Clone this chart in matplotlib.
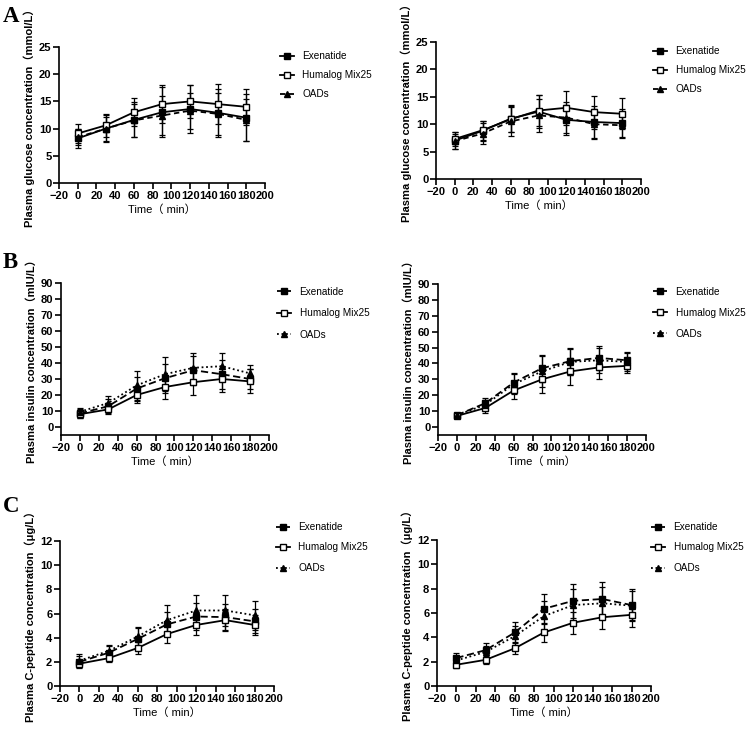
import matplotlib
matplotlib.use("Agg")
import matplotlib.pyplot as plt
from matplotlib.lines import Line2D

plt.rcParams['font.family'] = ['Liberation Sans', 'Noto Sans CJK SC', 'DejaVu Sans']

W, H = 755, 732

time_min = [0, 30, 60, 90, 120, 150, 180]
groups = ["Exenatide", "Humalog Mix25", "OADs"]

# A: plasma glucose (mmol/L)
glu_l_exe = [8.2, 10.0, 11.6, 13.0, 13.6, 12.9, 12.0]
glu_l_hum = [9.1, 10.6, 13.0, 14.5, 15.0, 14.5, 14.0]
glu_l_oad = [8.4, 10.0, 11.5, 12.4, 13.3, 12.7, 11.6]
glu_l_exe_sd = [1.8, 2.5, 3.2, 4.6, 4.5, 4.4, 4.3]
glu_l_hum_sd = [1.7, 2.1, 2.6, 3.5, 3.0, 3.7, 3.3]
glu_l_oad_sd = [1.5, 2.2, 3.0, 3.6, 3.3, 3.9, 3.9]

glu_r_exe = [7.0, 8.8, 11.0, 12.3, 10.8, 10.4, 10.2]
glu_r_hum = [7.3, 8.9, 10.9, 12.5, 13.0, 12.2, 11.9]
glu_r_oad = [6.9, 8.3, 10.5, 11.6, 11.2, 10.0, 9.8]
glu_r_exe_sd = [1.5, 1.8, 2.5, 3.0, 2.7, 3.0, 2.5]
glu_r_hum_sd = [1.3, 1.7, 2.4, 2.8, 3.1, 3.0, 2.8]
glu_r_oad_sd = [1.4, 1.9, 2.7, 3.0, 2.8, 2.7, 2.4]

# B: plasma insulin (mIU/L)
ins_l_exe = [8.5, 13.0, 24.0, 30.5, 35.5, 33.0, 30.0]
ins_l_hum = [8.0, 11.0, 20.0, 25.0, 28.0, 30.0, 28.5]
ins_l_oad = [9.5, 15.0, 26.0, 33.0, 37.0, 38.0, 33.5]
ins_l_exe_sd = [3.0, 4.5, 7.5, 9.0, 9.0, 9.0, 6.0]
ins_l_hum_sd = [2.5, 3.0, 5.0, 7.5, 8.0, 8.0, 7.5]
ins_l_oad_sd = [2.5, 4.5, 9.0, 10.5, 9.5, 8.5, 5.0]

ins_r_exe = [7.5, 15.0, 28.0, 37.0, 41.5, 43.5, 42.0]
ins_r_hum = [7.0, 12.0, 23.0, 30.0, 35.0, 37.5, 38.5]
ins_r_oad = [7.5, 14.0, 27.0, 35.0, 41.0, 42.0, 41.0]
ins_r_exe_sd = [1.5, 3.0, 6.0, 8.5, 8.5, 7.5, 5.5]
ins_r_hum_sd = [1.2, 3.0, 5.5, 8.5, 8.5, 7.5, 4.5]
ins_r_oad_sd = [1.3, 3.0, 6.5, 9.5, 8.0, 8.0, 5.5]

# C: plasma C-peptide (ug/L)
cp_l_exe = [2.0, 2.75, 3.9, 5.1, 5.75, 5.7, 5.35]
cp_l_hum = [1.85, 2.3, 3.15, 4.3, 5.05, 5.45, 5.05]
cp_l_oad = [2.1, 2.9, 4.1, 5.45, 6.25, 6.25, 5.85]
cp_l_exe_sd = [0.5, 0.6, 0.9, 1.0, 1.1, 1.1, 1.0]
cp_l_hum_sd = [0.3, 0.35, 0.5, 0.75, 0.85, 0.9, 0.8]
cp_l_oad_sd = [0.55, 0.5, 0.8, 1.25, 1.3, 1.3, 1.2]

cp_r_exe = [2.3, 2.95, 4.4, 6.35, 7.0, 7.15, 6.65]
cp_r_hum = [1.75, 2.15, 3.1, 4.4, 5.2, 5.65, 5.85]
cp_r_oad = [2.1, 2.8, 4.1, 5.75, 6.65, 6.8, 6.6]
cp_r_exe_sd = [0.45, 0.6, 0.9, 1.25, 1.4, 1.4, 1.3]
cp_r_hum_sd = [0.3, 0.35, 0.5, 0.75, 0.9, 1.0, 1.0]
cp_r_oad_sd = [0.4, 0.5, 0.8, 1.2, 1.3, 1.3, 1.2]

styles_a = [
    dict(ls='-', marker='s', mfc='black'),
    dict(ls='-', marker='s', mfc='white'),
    dict(ls=(0, (3, 2)), marker='^', mfc='black'),
]
styles_bc = [
    dict(ls=(0, (4, 2)), marker='s', mfc='black'),
    dict(ls='-', marker='s', mfc='white'),
    dict(ls=(0, (1, 1.5)), marker='^', mfc='black'),
]


def px_axes(fig, left, right, top, bottom):
    return fig.add_axes([left / W, 1 - bottom / H, (right - left) / W, (bottom - top) / H])


def draw_panel(fig, box, series, sds, styles, ylim, yticks, ylabel, leg_xy, leg_sp):
    ax = px_axes(fig, *box)
    handles = []
    for name, y, sd, st in zip(groups, series, sds, styles):
        ax.errorbar(time_min, y, yerr=sd, fmt='none', ecolor='black',
                    elinewidth=0.9, capsize=2.5, capthick=0.9, zorder=2)
        ax.plot(time_min, y, color='black', lw=1.3, ls=st['ls'],
                marker=st['marker'], ms=5, mfc=st['mfc'], mec='black',
                mew=1.0, zorder=3)
        handles.append(Line2D([], [], color='black', lw=1.3, ls=st['ls'],
                              marker=st['marker'], ms=5, mfc=st['mfc'],
                              mec='black', mew=1.0, label=name))
    ax.set_xlim(-20, 200)
    ax.set_xticks(range(-20, 201, 20))
    ax.set_ylim(*ylim)
    ax.set_yticks(yticks)
    for s in ('top', 'right'):
        ax.spines[s].set_visible(False)
    for s in ('left', 'bottom'):
        ax.spines[s].set_linewidth(1.2)
    ax.tick_params(direction='out', length=4, width=1.2, labelsize=8, pad=1.5)
    for lab in ax.get_xticklabels() + ax.get_yticklabels():
        lab.set_fontweight('bold')
    ax.set_xlabel('Time（ min）', fontsize=8, labelpad=3)
    ax.set_ylabel(ylabel, fontsize=8, fontweight='bold', labelpad=3)
    fig.legend(handles=handles, loc='upper left',
               bbox_to_anchor=(leg_xy[0] / W, 1 - leg_xy[1] / H),
               frameon=False, fontsize=7.2, handlelength=1.4,
               handletextpad=0.85, labelspacing=leg_sp, borderaxespad=0,
               borderpad=0)
    return ax


fig = plt.figure(figsize=(W / 100, H / 100), dpi=100)

glu_lab = 'Plasma glucose concentration（mmol/L）'
ins_lab = 'Plasma insulin concentration（mIU/L）'
cp_lab = 'Plasma C-peptide concentration（μg/L）'

draw_panel(fig, (59, 265, 47, 183), [glu_l_exe, glu_l_hum, glu_l_oad],
           [glu_l_exe_sd, glu_l_hum_sd, glu_l_oad_sd], styles_a,
           (0, 25), range(0, 26, 5), glu_lab, (280, 51), 0.9)
draw_panel(fig, (436, 641, 42, 179), [glu_r_exe, glu_r_hum, glu_r_oad],
           [glu_r_exe_sd, glu_r_hum_sd, glu_r_oad_sd], styles_a,
           (0, 25), range(0, 26, 5), glu_lab, (653, 46), 0.9)

draw_panel(fig, (61, 269, 283, 435), [ins_l_exe, ins_l_hum, ins_l_oad],
           [ins_l_exe_sd, ins_l_hum_sd, ins_l_oad_sd], styles_bc,
           (-5, 90), range(0, 91, 10), ins_lab, (277, 287), 1.15)
draw_panel(fig, (438, 646, 284, 435), [ins_r_exe, ins_r_hum, ins_r_oad],
           [ins_r_exe_sd, ins_r_hum_sd, ins_r_oad_sd], styles_bc,
           (-5, 90), range(0, 91, 10), ins_lab, (653, 287), 1.1)

draw_panel(fig, (60, 274, 541, 686), [cp_l_exe, cp_l_hum, cp_l_oad],
           [cp_l_exe_sd, cp_l_hum_sd, cp_l_oad_sd], styles_bc,
           (0, 12), range(0, 13, 2), cp_lab, (276, 522), 1.05)
draw_panel(fig, (437, 651, 540, 686), [cp_r_exe, cp_r_hum, cp_r_oad],
           [cp_r_exe_sd, cp_r_hum_sd, cp_r_oad_sd], styles_bc,
           (0, 12), range(0, 13, 2), cp_lab, (651, 522), 1.05)

for letter, ypx in (('A', 17), ('B', 262), ('C', 507)):
    fig.text(3 / W, 1 - ypx / H, letter, fontsize=16.5, fontweight='bold',
             family='Liberation Serif', va='center', ha='left')

fig.savefig('out.png', dpi=100)
